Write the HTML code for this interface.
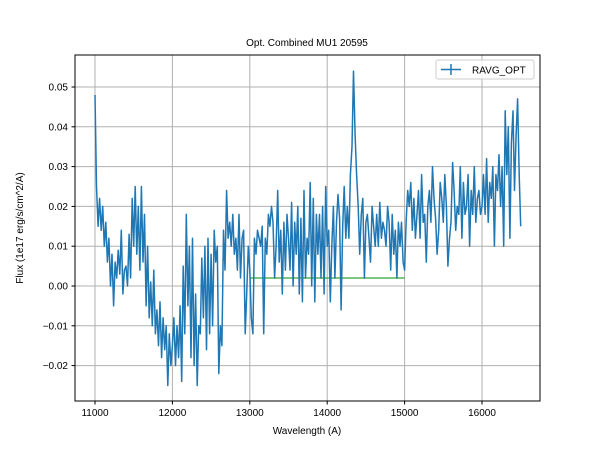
<!DOCTYPE html>
<html><head><meta charset="utf-8"><style>
body{margin:0;background:#fff;}
svg text{font-family:"Liberation Sans","DejaVu Sans",sans-serif;fill:#000;}
</style></head><body>
<svg id="chart" width="600" height="450" viewBox="0 0 600 450">
<rect width="600" height="450" fill="#fff"/>
<g id="grid"></g>
<g id="marks"></g>
<rect x="75" y="55" width="465" height="346" fill="none" stroke="#000" stroke-width="1"/>
<g id="axes"></g>
<text x="307" y="46" font-size="10" text-anchor="middle">Opt. Combined MU1 20595</text>
<text x="307" y="434" font-size="10" text-anchor="middle">Wavelength (A)</text>
<text x="23" y="228" font-size="10" text-anchor="middle" transform="rotate(-90 23 228)">Flux (1e17 erg/s/cm^2/A)</text>
<g>
<rect x="436" y="60" width="98" height="19" rx="2" fill="#fff" fill-opacity="0.8" stroke="#ccc"/>
<line x1="441" y1="69.5" x2="461" y2="69.5" stroke="#1f77b4" stroke-width="1.5"/>
<line x1="451" y1="64" x2="451" y2="75" stroke="#1f77b4" stroke-width="1.5"/>
<text x="472" y="73.5" font-size="10">RAVG_OPT</text>
</g>
</svg>
<script>
const wlStart = 11000;
const wlStep = 20;
const flux = [
0.048,0.025,0.015,0.022,0.014,0.020,0.010,0.016,0.006,0.012,
0.000,0.008,-0.005,0.006,0.002,0.009,0.003,0.014,-0.002,0.004,
0.005,0.000,0.013,0.002,0.022,0.010,0.025,0.008,0.020,0.004,
0.025,0.006,0.018,-0.005,0.010,-0.008,0.001,-0.010,0.004,-0.012,
-0.006,-0.015,-0.004,-0.018,-0.008,-0.016,-0.010,-0.025,-0.012,-0.020,
-0.015,-0.008,-0.020,-0.010,-0.018,-0.005,-0.024,0.005,-0.012,0.018,
-0.005,0.010,-0.018,0.012,-0.020,-0.002,-0.025,-0.010,-0.012,0.007,
-0.008,0.010,-0.016,0.012,-0.012,0.008,-0.010,0.014,0.006,0.010,
-0.022,-0.010,-0.015,0.014,0.004,0.024,0.012,0.016,0.010,0.018,
0.008,0.012,0.004,0.018,0.002,0.012,0.014,-0.012,-0.002,0.010,
0.004,-0.008,-0.012,0.012,0.008,0.014,0.012,0.010,0.015,-0.012,
0.012,0.008,0.018,0.015,0.020,0.016,0.002,0.010,0.024,0.006,
0.014,-0.002,0.016,0.004,0.018,0.012,0.004,0.021,0.000,0.016,
0.008,0.020,-0.002,0.017,-0.004,0.024,0.002,0.012,0.008,0.026,
0.000,0.022,-0.004,0.018,0.008,0.018,0.002,0.020,-0.002,0.025,
0.010,0.014,-0.004,0.010,0.020,0.002,0.016,0.023,0.017,-0.006,
0.015,0.025,0.012,0.020,0.012,0.028,0.035,0.054,0.038,0.028,
0.020,0.008,0.018,0.022,0.002,0.016,0.018,0.012,0.006,0.020,
0.015,0.010,0.018,0.010,0.021,0.012,0.016,0.014,0.010,0.020,
0.016,0.004,0.018,0.008,0.014,0.002,0.016,0.010,0.016,0.006,
0.004,0.016,0.024,0.020,0.026,0.014,0.022,0.012,0.018,0.024,
0.012,0.028,0.016,0.018,0.006,0.020,0.024,0.016,0.030,0.022,
0.017,0.008,0.014,0.026,0.022,0.016,0.028,0.020,0.005,0.012,
0.016,0.031,0.024,0.014,0.020,0.018,0.030,0.012,0.026,0.018,
0.020,0.028,0.010,0.024,0.018,0.030,0.016,0.022,0.024,0.018,
0.020,0.028,0.018,0.032,0.016,0.026,0.022,0.030,0.010,0.028,
0.024,0.033,0.020,0.030,0.010,0.044,0.028,0.040,0.012,0.036,
0.044,0.024,0.038,0.047,0.028,0.015
];
const contX = [13000, 15000];
const contY = [0.002, 0.002];
const xTicks = [11000,12000,13000,14000,15000,16000];
const yTicks = [-0.02,-0.01,0.00,0.01,0.02,0.03,0.04,0.05];
const yTickLabels = ["−0.02","−0.01","0.00","0.01","0.02","0.03","0.04","0.05"];

const X = v => 95 + (v - 11000) * 0.0774;
const Y = v => 286 - v * 3980;
const NS = "http://www.w3.org/2000/svg";
const grid = document.getElementById('grid');
const axes = document.getElementById('axes');
const marks = document.getElementById('marks');
function mk(tag, attrs, parent){const e=document.createElementNS(NS,tag);for(const k in attrs)e.setAttribute(k,attrs[k]);parent.appendChild(e);return e;}

xTicks.forEach(t=>{
  const x=X(t);
  const g=mk('line',{x1:x,x2:x,y1:55,y2:401,stroke:'#b0b0b0','stroke-width':1},grid);
  
  
  mk('line',{x1:x,x2:x,y1:401,y2:404.5,stroke:'#000'},axes);
  const tx=mk('text',{x:x,y:416,'font-size':10,'text-anchor':'middle'},axes);
  tx.textContent=t;
  
  
});
yTicks.forEach((t,i)=>{
  const y=Y(t);
  const g=mk('line',{x1:75,x2:540,y1:y,y2:y,stroke:'#b0b0b0','stroke-width':1},grid);
  
  
  mk('line',{x1:71.5,x2:75,y1:y,y2:y,stroke:'#000'},axes);
  const tx=mk('text',{x:68,y:y+3.5,'font-size':10,'text-anchor':'end'},axes);
  tx.textContent=yTickLabels[i];
  
  
});

const cont=mk('line',{x1:X(contX[0]),x2:X(contX[1]),y1:Y(contY[0]),y2:Y(contY[1]),stroke:'#2ca02c','stroke-opacity':0.6,'stroke-width':2},marks);



const pts=flux.map((v,i)=>X(wlStart+i*wlStep).toFixed(1)+','+Y(v).toFixed(1)).join(' ');
const line=mk('polyline',{points:pts,fill:'none',stroke:'#1f77b4','stroke-width':1.5,'stroke-linejoin':'round'},marks);


</script>
</body></html>
